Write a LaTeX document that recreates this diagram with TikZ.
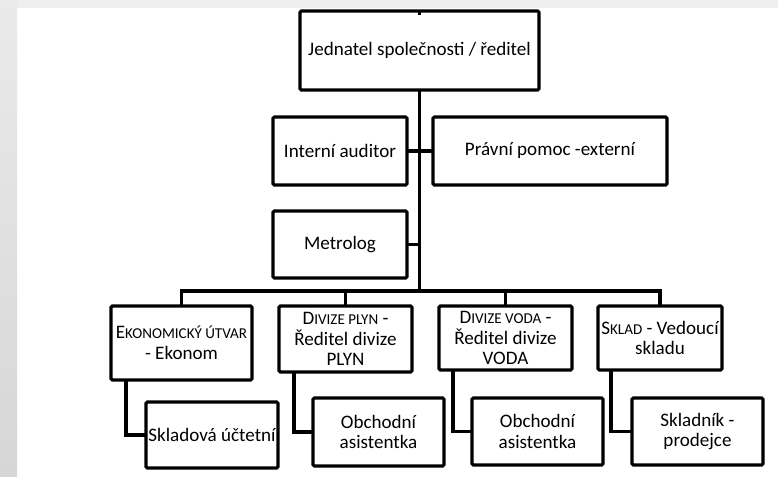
\documentclass[tikz,border=0pt]{standalone}
\usepackage{fontspec}
\setmainfont{Carlito}
\usepackage{tikz}
\usetikzlibrary{positioning, calc}
\definecolor{topband}{HTML}{EFEFEF}
\definecolor{stripup}{HTML}{EAEAEA}
\definecolor{stripdown}{HTML}{D6D6D6}
\newcommand{\smc}[2]{#1{\fontsize{11.3}{15.4}\selectfont #2}}

\begin{document}
\begin{tikzpicture}[x=0.75pt, y=-0.75pt,
  orgbox/.style={draw=black, line width=2.3pt, rounded corners=1pt, fill=white,
    inner sep=0pt, outer sep=0pt, align=center,
    font=\fontsize{14.3}{15.4}\selectfont},
  link/.style={draw=black, line width=2.3pt}]
\useasboundingbox (0,0) rectangle (778,477);
\fill[white] (0,0) rectangle (778,477);
\fill[topband] (0,0) rectangle (778,8);
\shade[top color=stripup, bottom color=stripdown] (0,0) rectangle (17,477);

% top levels
\node[orgbox, minimum width=179.25pt, minimum height=59.25pt] (boss) at (419.5,50.5)
  {Jednatel společnosti / ředitel};
\node[orgbox, minimum width=100.5pt, minimum height=51pt] (auditor) at (340,151)
  {Interní auditor};
\node[orgbox, minimum width=175.5pt, minimum height=51pt] (legal) at (550,151)
  {Právní pomoc -externí};
\node[orgbox, minimum width=100.5pt, minimum height=50.25pt] (metro) at (340,244.5)
  {Metrolog};

% divisions
\node[orgbox, minimum width=105.75pt, minimum height=55.5pt] (econ) at (181.5,343)
  {\smc{E}{KONOMICKÝ ÚTVAR}\\- Ekonom};
\node[orgbox, minimum width=99.75pt, minimum height=49.5pt] (plyn) at (345.5,339)
  {\smc{D}{IVIZE PLYN} -\\Ředitel divize\\PLYN};
\node[orgbox, minimum width=99.75pt, minimum height=48pt] (voda) at (505.5,338)
  {\smc{D}{IVIZE VODA} -\\Ředitel divize\\VODA};
\node[orgbox, minimum width=93pt, minimum height=48pt] (sklad) at (660,338)
  {\smc{S}{KLAD} - Vedoucí\\skladu};

% staff
\node[orgbox, minimum width=99pt, minimum height=49.5pt] (ucetni) at (212,435)
  {Skladová účtetní};
\node[orgbox, minimum width=98.25pt, minimum height=51pt] (asplyn) at (378.5,432)
  {Obchodní\\asistentka};
\node[orgbox, minimum width=98.25pt, minimum height=50.25pt] (asvoda) at (537.5,431.5)
  {Obchodní\\asistentka};
\node[orgbox, minimum width=98.25pt, minimum height=50.25pt] (skladnik) at (697.5,431.5)
  {Skladník -\\prodejce};

% connectors
\coordinate (stub) at ($(boss.north)+(0,-3pt)$);
\coordinate (hub) at (boss.south |- 0,291);
\draw[link] (boss.north) -- (stub);
\draw[link] (boss.south) -- (hub);
\draw[link] (auditor.east) -- (legal.west);
\draw[link] (metro.east) -- (metro.east -| hub);
\draw[link] (econ.north) |- (sklad.north |- hub) -- (sklad.north);
\draw[link] (plyn.north) -- (plyn.north |- hub);
\draw[link] (voda.north) -- (voda.north |- hub);
\draw[link] ([xshift=11.25pt]econ.south west) |- (ucetni.west);
\draw[link] ([xshift=11.25pt]plyn.south west) |- (asplyn.west);
\draw[link] ([xshift=10.5pt]voda.south west) |- (asvoda.west);
\draw[link] ([xshift=9.75pt]sklad.south west) |- (skladnik.west);
\end{tikzpicture}
\end{document}
